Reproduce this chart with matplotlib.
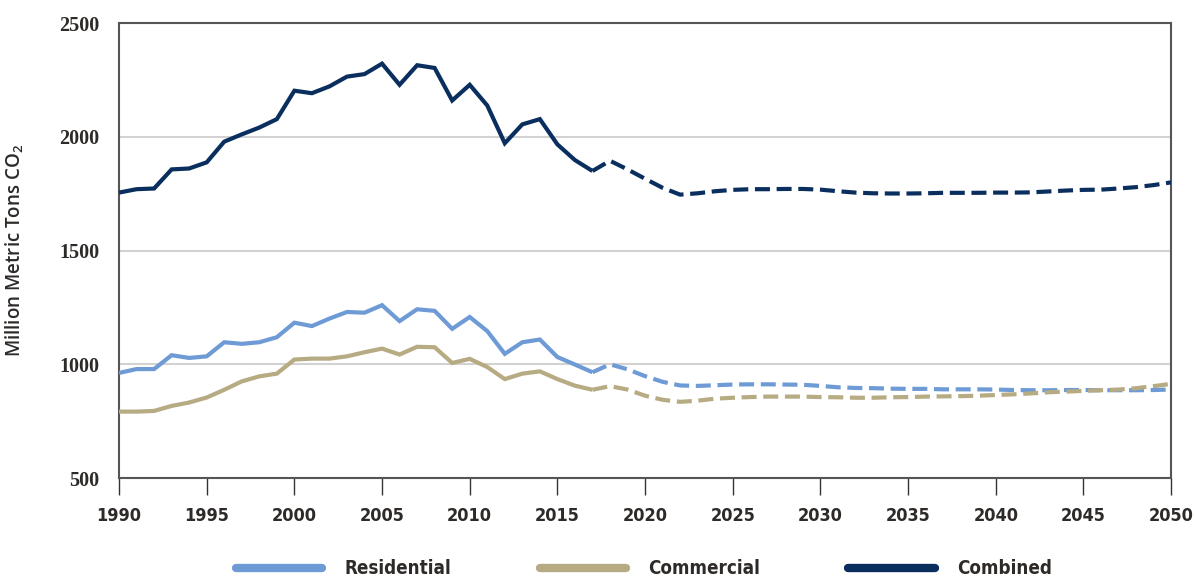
import numpy as np
import matplotlib
matplotlib.use('Agg')
import matplotlib.pyplot as plt

# dados historicos (1990-2017)
anos_hist = list(range(1990, 2018))
residencial_hist = [962, 979, 979, 1040, 1028, 1035, 1097, 1090, 1097, 1119,
                    1183, 1168, 1201, 1230, 1227, 1260, 1190, 1242, 1235, 1156,
                    1208, 1146, 1046, 1097, 1109, 1032, 999, 965]
comercial_hist = [792, 792, 795, 817, 832, 854, 888, 925, 947, 959,
                  1021, 1025, 1025, 1035, 1053, 1069, 1043, 1077, 1075, 1006,
                  1024, 988, 935, 959, 969, 935, 906, 888]
combinado_hist = [1755, 1770, 1773, 1857, 1861, 1888, 1979, 2011, 2041, 2078,
                  2203, 2192, 2222, 2265, 2276, 2322, 2229, 2315, 2303, 2160,
                  2229, 2138, 1972, 2055, 2078, 1967, 1898, 1850]

# projecao (2017-2050)
anos_proj = list(range(2017, 2051))
residencial_proj = [965, 1000, 978, 948, 923, 907, 905, 908, 911, 912,
                    912, 911, 910, 905, 899, 896, 895, 893, 892, 892,
                    890, 890, 890, 889, 887, 886, 886, 887, 887, 886,
                    886, 886, 887, 889]
comercial_proj = [888, 904, 889, 862, 844, 835, 840, 849, 853, 856,
                  858, 858, 858, 856, 855, 853, 853, 855, 856, 858,
                  859, 860, 862, 865, 868, 872, 877, 880, 883, 886,
                  889, 895, 904, 914]
combinado_proj = [1850, 1895, 1857, 1816, 1776, 1746, 1752, 1761, 1767, 1770,
                  1770, 1771, 1771, 1768, 1761, 1755, 1752, 1751, 1751, 1752,
                  1754, 1754, 1754, 1755, 1755, 1756, 1760, 1764, 1767, 1768,
                  1773, 1779, 1788, 1800]

nomes = ['Residential', 'Commercial', 'Combined']
cores = ['#6e9bd5', '#b6ab82', '#0a2f5f']

x_ticks = list(range(1990, 2051, 5))
y_ticks = [500, 1000, 1500, 2000, 2500]

cor_texto = '#2e2a28'
fonte_estreita = {'family': 'DejaVu Sans', 'stretch': 'condensed', 'weight': 'bold'}

fig = plt.figure(figsize=(11.95, 5.79), dpi=100)
ax = fig.add_axes([0.0996, 0.1744, 0.8804, 0.7856])

series_hist = [residencial_hist, comercial_hist, combinado_hist]
series_proj = [residencial_proj, comercial_proj, combinado_proj]
for nome, cor, h, p in zip(nomes, cores, series_hist, series_proj):
    ax.plot(anos_hist, h, color=cor, lw=3, solid_capstyle='butt',
            solid_joinstyle='miter', zorder=3)
    ax.plot(anos_proj, p, color=cor, lw=3, dashes=(3.6, 1.6),
            dash_capstyle='butt', zorder=3)

ax.set_xlim(1990, 2050)
ax.set_ylim(500, 2500)
ax.set_xticks(x_ticks)
ax.set_yticks(y_ticks)
ax.grid(axis='y', color='#d2d2d2', lw=1.5, zorder=1)

for s in ax.spines.values():
    s.set_color('#555555')
    s.set_linewidth(1.5)

ax.tick_params(axis='x', length=12, width=1, color='#333333', pad=9)
ax.tick_params(axis='y', length=0, pad=14)
for lbl in ax.get_xticklabels():
    lbl.set_family('DejaVu Sans')
    lbl.set_stretch('condensed')
    lbl.set_fontweight('bold')
    lbl.set_fontsize(13)
    lbl.set_color(cor_texto)
for lbl in ax.get_yticklabels():
    lbl.set_family(['Liberation Serif', 'DejaVu Serif'])
    lbl.set_fontweight('bold')
    lbl.set_fontsize(14.5)
    lbl.set_color(cor_texto)

ax.set_ylabel(r'Million Metric Tons CO$_\mathregular{2}$', family=['Open Sans', 'DejaVu Sans'],
              fontsize=13.5, fontweight='semibold', color=cor_texto, labelpad=24)

# legenda
handles = [plt.Line2D([], [], color=c, lw=6, solid_capstyle='round') for c in cores]
leg = fig.legend(handles, nomes, loc='center', bbox_to_anchor=(0.539, 0.018), ncol=3,
                 frameon=False, handlelength=4.6, columnspacing=4.7, handletextpad=1.2,
                 prop=dict(fonte_estreita, size=13.5))
for t in leg.get_texts():
    t.set_color(cor_texto)

fig.savefig('out.png', dpi=100)
